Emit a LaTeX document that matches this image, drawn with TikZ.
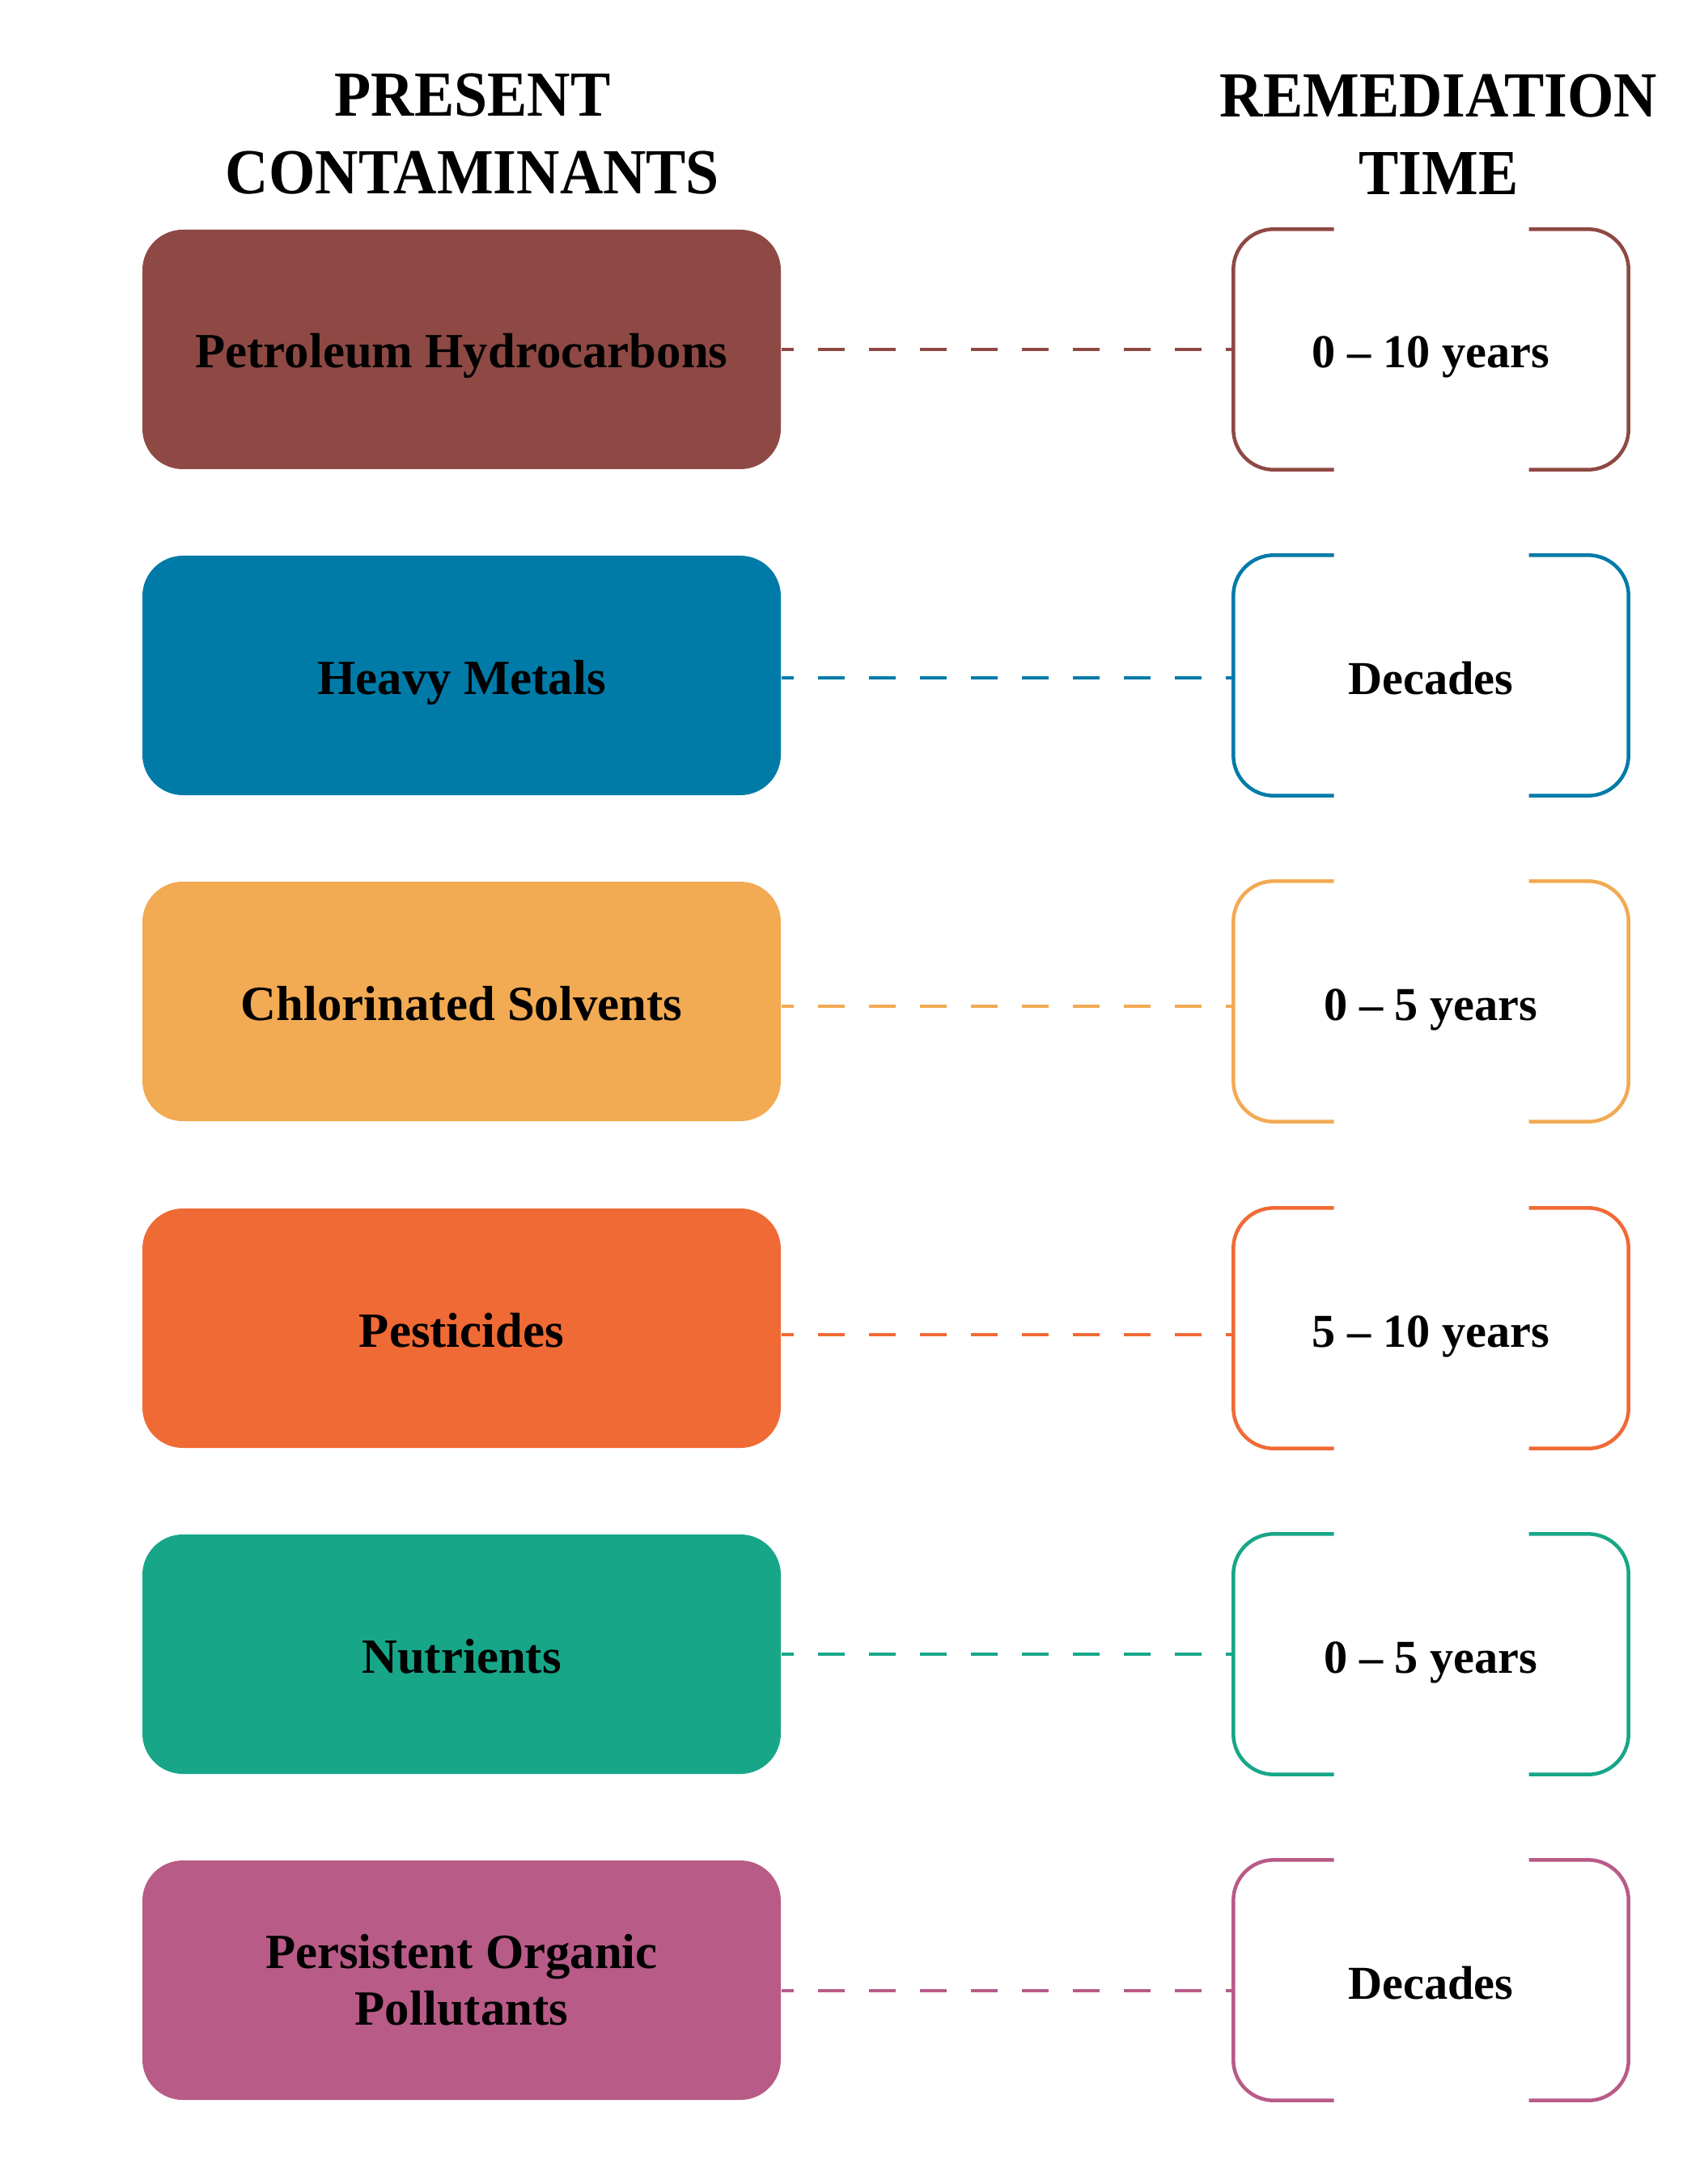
\documentclass[tikz,border=0pt]{standalone}
\usepackage{fontspec}
\setmainfont{Liberation Serif}
\newfontfamily\headfont{Liberation Serif}[FakeStretch=0.93]
\definecolor{cPet}{HTML}{8E4944}
\definecolor{cMet}{HTML}{007BA8}
\definecolor{cSol}{HTML}{F2AA53}
\definecolor{cPes}{HTML}{F06A35}
\definecolor{cNut}{HTML}{17A688}
\definecolor{cPop}{HTML}{B85B87}
\tikzset{
  headtext/.style={align=center,font=\headfont\bfseries\fontsize{22.6}{27.3}\selectfont,inner sep=0pt},
  cbox/.style={fill=#1,draw=none,rounded corners=0.5cm,minimum width=7.89cm,minimum height=2.96cm,
    inner sep=0pt,text height=0.46cm,text depth=0cm,align=center,
    font=\bfseries\fontsize{17.3}{19.4}\selectfont},
  tbox/.style={draw=none,minimum width=4.87cm,minimum height=2.96cm,inner sep=0pt,
    text height=0.46cm,text depth=0cm,font=\bfseries\fontsize{16.6}{19.4}\selectfont},
  bracketline/.style={draw=#1,line width=0.045cm,rounded corners=0.5cm},
  dashlink/.style={draw=#1,line width=0.038cm,dash pattern=on 0.33cm off 0.30cm,dash phase=0.18cm},
}
\newcommand{\rowbracket}[2]{%
  \draw[bracketline=#2] ([xshift=-1.2cm]#1.north) -- (#1.north west) -- (#1.south west) -- ([xshift=-1.2cm]#1.south);
  \draw[bracketline=#2] ([xshift=1.21cm]#1.north) -- (#1.north east) -- (#1.south east) -- ([xshift=1.21cm]#1.south);
}
\begin{document}
\begin{tikzpicture}
\useasboundingbox[fill=white] (0,0) rectangle (21.05,-27);
% headers
\node[headtext] (h1) at (5.84,-1.66) {PRESENT\\CONTAMINANTS};
\node[headtext] (h2) at (17.78,-1.66) {REMEDIATION\\TIME};
% rows
\node[cbox=cPet] (b1) at (5.705,-4.32) {Petroleum Hydrocarbons};
\node[cbox=cMet] (b2) at (5.705,-8.35) {Heavy Metals};
\node[cbox=cSol] (b3) at (5.705,-12.38) {Chlorinated Solvents};
\node[cbox=cPes] (b4) at (5.705,-16.42) {Pesticides};
\node[cbox=cNut] (b5) at (5.705,-20.45) {Nutrients};
\node[cbox=cPop,text height={},text depth={},font=\bfseries\fontsize{17.3}{20}\selectfont] (b6) at (5.705,-24.48) {Persistent Organic\\Pollutants};
\node[tbox] (t1) at (17.685,-4.32) {0 – 10 years};
\node[tbox] (t2) at (17.685,-8.35) {Decades};
\node[tbox] (t3) at (17.685,-12.38) {0 – 5 years};
\node[tbox] (t4) at (17.685,-16.42) {5 – 10 years};
\node[tbox] (t5) at (17.685,-20.45) {0 – 5 years};
\node[tbox] (t6) at (17.685,-24.48) {Decades};
\rowbracket{t1}{cPet}
\rowbracket{t2}{cMet}
\rowbracket{t3}{cSol}
\rowbracket{t4}{cPes}
\rowbracket{t5}{cNut}
\rowbracket{t6}{cPop}
\draw[dashlink=cPet] (b1.east) -- (t1.west);
\draw[dashlink=cMet] ([yshift=-0.03cm]b2.east) -- ([yshift=-0.03cm]t2.west);
\draw[dashlink=cSol] ([yshift=-0.06cm]b3.east) -- ([yshift=-0.06cm]t3.west);
\draw[dashlink=cPes] ([yshift=-0.08cm]b4.east) -- ([yshift=-0.08cm]t4.west);
\draw[dashlink=cNut] (b5.east) -- (t5.west);
\draw[dashlink=cPop] ([yshift=-0.13cm]b6.east) -- ([yshift=-0.13cm]t6.west);
\end{tikzpicture}
\end{document}
